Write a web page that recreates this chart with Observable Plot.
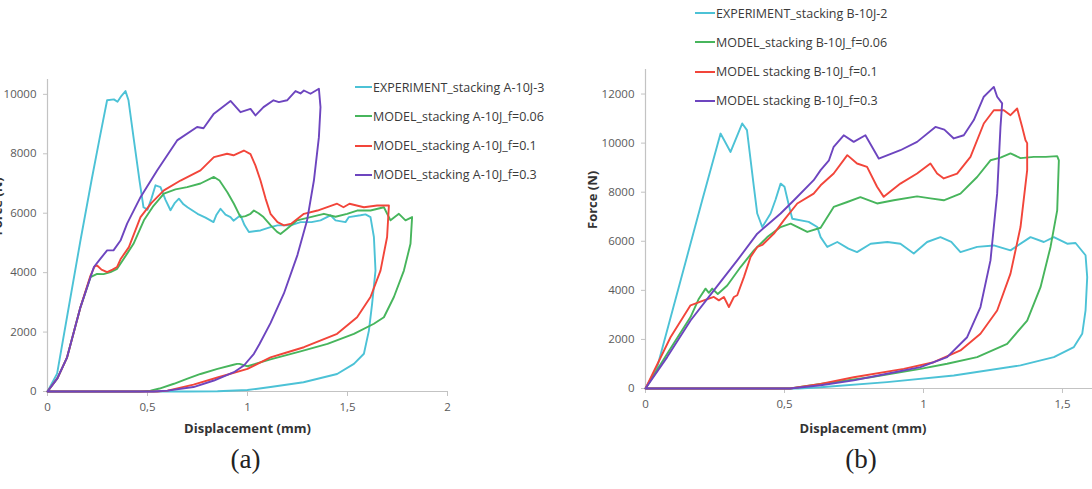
<!DOCTYPE html>
<html>
<head>
<meta charset="utf-8">
<script src="https://cdn.jsdelivr.net/npm/d3@7"></script>
<script src="https://cdn.jsdelivr.net/npm/@observablehq/plot@0.6"></script>
<style>
  html, body { margin: 0; padding: 0; background: #fff; }
  #wrap { position: relative; width: 1092px; height: 489px; overflow: hidden; font-family: "Open Sans", sans-serif; }
  #wrap > .pa, #wrap > .pb { position: absolute; top: 0; }
  .pa { left: 0; }
  .pb { left: 546px; }
  .legend { position: absolute; font-family: "Open Sans", sans-serif; font-size: 12.5px; color: #3a3a3a; }
  .legend .row { position: absolute; white-space: nowrap; display: flex; align-items: center; height: 16px; }
  .legend .sw { display: inline-block; height: 2px; margin-right: 1px; }
</style>
</head>
<body>
<div id="wrap"></div>
<script>
// ---------- Panel (a): stacking A ----------
const aXTicks = [0, 0.5, 1, 1.5, 2];
const aYTicks = [0, 2000, 4000, 6000, 8000, 10000];
const aLabels = ["EXPERIMENT_stacking A-10J-3", "MODEL_stacking A-10J_f=0.06", "MODEL_stacking A-10J_f=0.1", "MODEL_stacking A-10J_f=0.3"];

const aExp = [[0,0],[0.048,600],[0.1,2600],[0.165,5090],[0.22,7100],[0.26,8500],[0.298,9800],[0.332,9830],[0.35,9750],[0.37,9950],[0.39,10110],[0.405,9800],[0.43,8560],[0.46,7100],[0.48,6200],[0.50,6120],[0.52,6500],[0.54,6940],[0.565,6880],[0.59,6450],[0.615,6100],[0.637,6350],[0.657,6490],[0.68,6300],[0.70,6200],[0.75,5980],[0.79,5850],[0.83,5700],[0.845,5950],[0.865,6150],[0.89,5950],[0.915,5870],[0.93,5750],[0.965,5930],[0.985,5600],[1.007,5370],[1.065,5420],[1.115,5530],[1.15,5590],[1.215,5590],[1.265,5700],[1.32,5700],[1.365,5760],[1.415,5930],[1.44,5760],[1.49,5700],[1.507,5870],[1.565,5930],[1.59,5960],[1.615,5870],[1.632,5200],[1.64,4070],[1.623,2950],[1.607,2050],[1.582,1270],[1.532,930],[1.448,590],[1.28,310],[1.115,150],[1.0,50],[0.85,10],[0.7,0],[0,0]];
const aF006 = [[0,0],[0.05,450],[0.098,1150],[0.165,2840],[0.215,3850],[0.248,3960],[0.28,3950],[0.315,4020],[0.348,4130],[0.398,4640],[0.43,4970],[0.482,5760],[0.53,6250],[0.582,6660],[0.64,6800],[0.698,6880],[0.765,7000],[0.832,7220],[0.86,7100],[0.9,6700],[0.932,6320],[0.965,5870],[0.99,5900],[1.015,5980],[1.032,6090],[1.055,6000],[1.08,5870],[1.115,5600],[1.148,5370],[1.165,5300],[1.198,5480],[1.248,5760],[1.315,5870],[1.382,5980],[1.44,5880],[1.498,5980],[1.548,6090],[1.615,6090],[1.682,6200],[1.715,5760],[1.757,5980],[1.79,5760],[1.823,5870],[1.815,4970],[1.782,4070],[1.732,3180],[1.682,2500],[1.632,2280],[1.532,1940],[1.4,1600],[1.265,1350],[1.115,1080],[1.0,850],[0.96,930],[0.948,930],[0.93,900],[0.85,760],[0.765,590],[0.7,430],[0.632,260],[0.56,100],[0.515,30],[0.465,0],[0,0]];
const aF01 = [[0,0],[0.05,450],[0.098,1150],[0.165,2840],[0.215,3900],[0.235,4200],[0.248,4240],[0.27,4100],[0.298,4020],[0.325,4100],[0.348,4190],[0.365,4450],[0.407,4860],[0.465,5870],[0.52,6350],[0.582,6770],[0.665,7100],[0.765,7440],[0.832,7890],[0.898,8000],[0.93,7950],[0.982,8110],[1.015,7990],[1.04,7600],[1.065,7100],[1.09,6500],[1.115,5980],[1.15,5700],[1.182,5590],[1.22,5650],[1.282,5980],[1.35,6090],[1.448,6320],[1.48,6200],[1.51,6320],[1.582,6200],[1.648,6260],[1.707,6260],[1.698,5200],[1.665,4070],[1.615,3180],[1.548,2500],[1.448,1940],[1.282,1490],[1.2,1320],[1.115,1150],[1.0,760],[0.85,470],[0.73,230],[0.6,30],[0.55,0],[0,0]];
const aF03 = [[0,0],[0.05,450],[0.098,1150],[0.165,2840],[0.232,4190],[0.265,4470],[0.298,4750],[0.33,4750],[0.365,5080],[0.398,5650],[0.465,6540],[0.548,7440],[0.648,8450],[0.748,8900],[0.78,8860],[0.832,9350],[0.915,9780],[0.965,9400],[1.015,9510],[1.04,9290],[1.08,9570],[1.13,9800],[1.157,9740],[1.198,9800],[1.24,10110],[1.265,10030],[1.282,10130],[1.315,10020],[1.357,10190],[1.365,9570],[1.357,8560],[1.332,7100],[1.298,5760],[1.25,4600],[1.182,3300],[1.115,2300],[1.06,1600],[1.032,1270],[0.982,875],[0.932,650],[0.832,370],[0.73,150],[0.6,30],[0.53,0],[0,0]];

// ---------- Panel (b): stacking B ----------
const bXTicks = [0, 0.5, 1, 1.5];
const bYTicks = [0, 2000, 4000, 6000, 8000, 10000, 12000];
const bLabels = ["EXPERIMENT_stacking B-10J-2", "MODEL_stacking B-10J_f=0.06", "MODEL stacking B-10J_f=0.1", "MODEL stacking B-10J_f=0.3"];

const bExp = [[0,0],[0.042,870],[0.1,3300],[0.15,5400],[0.204,7670],[0.27,10390],[0.306,9640],[0.348,10800],[0.365,10530],[0.39,8210],[0.402,7130],[0.42,6580],[0.45,7130],[0.468,7700],[0.486,8350],[0.5,8220],[0.515,7500],[0.528,6920],[0.587,6790],[0.618,6580],[0.63,6170],[0.654,5770],[0.69,5970],[0.73,5700],[0.761,5560],[0.81,5900],[0.87,5970],[0.917,5900],[0.965,5500],[1.013,5970],[1.061,6170],[1.1,5980],[1.133,5560],[1.193,5770],[1.253,5830],[1.313,5630],[1.385,6170],[1.433,5970],[1.469,6170],[1.517,5900],[1.547,5930],[1.583,5430],[1.589,4540],[1.583,3180],[1.571,2230],[1.541,1690],[1.469,1280],[1.349,940],[1.109,530],[0.869,260],[0.63,50],[0.55,0],[0,0]];
const bF006 = [[0,0],[0.078,1420],[0.162,2910],[0.192,3660],[0.216,4070],[0.228,3900],[0.24,4070],[0.26,3850],[0.294,4200],[0.342,4950],[0.39,5630],[0.438,6170],[0.486,6580],[0.522,6720],[0.582,6380],[0.63,6550],[0.677,7400],[0.726,7600],[0.773,7800],[0.833,7540],[0.893,7670],[0.977,7830],[1.025,7750],[1.073,7670],[1.133,7940],[1.193,8620],[1.241,9300],[1.277,9410],[1.313,9580],[1.349,9390],[1.397,9440],[1.44,9440],[1.481,9470],[1.487,9300],[1.481,7260],[1.457,5770],[1.421,4130],[1.373,2770],[1.301,1820],[1.193,1280],[1.085,1010],[0.989,800],[0.809,460],[0.63,190],[0.52,0],[0,0]];
const bF01 = [[0,0],[0.09,2090],[0.162,3390],[0.21,3590],[0.246,3730],[0.264,3590],[0.282,3730],[0.3,3320],[0.318,3730],[0.33,3800],[0.354,4540],[0.378,5360],[0.402,5770],[0.42,5850],[0.462,6310],[0.498,6860],[0.546,7540],[0.605,7940],[0.63,8280],[0.677,8760],[0.726,9510],[0.761,9170],[0.797,9030],[0.833,8220],[0.857,7810],[0.917,8350],[0.977,8760],[1.025,9170],[1.049,8760],[1.073,8560],[1.121,8760],[1.169,9440],[1.217,10800],[1.253,11340],[1.289,11340],[1.313,11140],[1.337,11410],[1.355,10660],[1.367,10120],[1.373,10000],[1.373,8900],[1.349,6580],[1.313,4680],[1.265,3180],[1.205,2230],[1.133,1550],[1.037,1070],[0.929,800],[0.749,460],[0.63,190],[0.52,0],[0,0]];
const bF03 = [[0,0],[0.078,1280],[0.162,2770],[0.246,4000],[0.33,5220],[0.402,6310],[0.486,7130],[0.534,7670],[0.605,8490],[0.63,8900],[0.66,9300],[0.677,9850],[0.713,10320],[0.749,10050],[0.791,10320],[0.839,9370],[0.869,9500],[0.917,9710],[0.977,10050],[1.043,10660],[1.075,10550],[1.109,10190],[1.145,10320],[1.181,10940],[1.217,11890],[1.253,12290],[1.265,11890],[1.283,11620],[1.277,10660],[1.265,7940],[1.241,5220],[1.205,3320],[1.157,2090],[1.085,1280],[0.989,870],[0.869,600],[0.749,330],[0.63,130],[0.52,0],[0,0]];

const colors = ["#4cc2d6", "#47b55c", "#f2453a", "#6d45bf"];
const axisGray = "#c3c3c3";
const tickText = "#5a5a5a";
const commaFmt = d => String(d).replace(".", ",");

function panel({series, xDomain, yDomain, xTicks, yTicks, width, marginLeft, marginRight, marginTop, marginBottom, yLabelDx, titleDx, titleDy, captionDy, caption}) {
  const marks = [
    Plot.axisX({ticks: xTicks, tickFormat: commaFmt, tickSize: 5, tickPadding: 6, stroke: axisGray, fill: tickText, fontSize: 11.5, label: null}),
    Plot.axisY({ticks: yTicks, tickFormat: d => String(d), tickSize: 4, tickPadding: 7, stroke: axisGray, fill: tickText, fontSize: 11.5, label: null}),
    Plot.ruleY([0], {stroke: axisGray, strokeWidth: 1.2}),
    Plot.ruleX([0], {stroke: axisGray, strokeWidth: 1.2})
  ];
  series.forEach((s, i) => {
    marks.push(Plot.line(s, {x: d => d[0], y: d => d[1], stroke: colors[i], strokeWidth: 1.9, curve: "linear"}));
  });
  marks.push(
    Plot.text(["Displacement (mm)"], {frameAnchor: "bottom", dy: titleDy, dx: titleDx, fontWeight: "bold", fontSize: 13, fill: "#333", fontFamily: "Open Sans"}),
    Plot.text(["Force (N)"], {frameAnchor: "left", dx: yLabelDx, rotate: -90, fontWeight: "bold", fontSize: 13, fill: "#333", fontFamily: "Open Sans"}),
    Plot.text([caption], {frameAnchor: "bottom", dy: captionDy, dx: titleDx - 2, fontSize: 27, fill: "#222", fontFamily: "Liberation Serif"})
  );
  return Plot.plot({
    width, height: 489, marginLeft, marginRight, marginTop, marginBottom,
    style: {fontFamily: "Open Sans", background: "transparent"},
    x: {domain: xDomain},
    y: {domain: yDomain},
    marks
  });
}

const wrap = document.getElementById("wrap");

const pa = panel({
  series: [aExp, aF006, aF01, aF03],
  xDomain: [0, 2], yDomain: [0, 10500], xTicks: aXTicks, yTicks: aYTicks,
  width: 470, marginLeft: 47, marginRight: 23, marginTop: 79, marginBottom: 98,
  yLabelDx: -50, titleDx: 0, titleDy: 41, captionDy: 76, caption: "(a)"
});
pa.classList.add("pa");
wrap.appendChild(pa);

const pb = panel({
  series: [bExp, bF006, bF01, bF03],
  xDomain: [0, 1.608], yDomain: [0, 13000], xTicks: bXTicks, yTicks: bYTicks,
  width: 546, marginLeft: 99, marginRight: 0, marginTop: 69, marginBottom: 101,
  yLabelDx: -53, titleDx: -6, titleDy: 44, captionDy: 79, caption: "(b)"
});
pb.classList.add("pb");
wrap.appendChild(pb);

function legend(labels, left, top, swW, step) {
  const lg = document.createElement("div");
  lg.className = "legend";
  lg.style.left = left + "px";
  lg.style.top = top + "px";
  labels.forEach((t, i) => {
    const row = document.createElement("div");
    row.className = "row";
    row.style.top = (i * step) + "px";
    const sw = document.createElement("span");
    sw.className = "sw";
    sw.style.width = swW + "px";
    sw.style.background = colors[i];
    const tx = document.createElement("span");
    tx.textContent = t;
    row.appendChild(sw);
    row.appendChild(tx);
    lg.appendChild(row);
  });
  wrap.appendChild(lg);
}
legend(aLabels, 355, 79, 17, 29.3);
legend(bLabels, 695, 5, 20, 29.3);
</script>
</body>
</html>
